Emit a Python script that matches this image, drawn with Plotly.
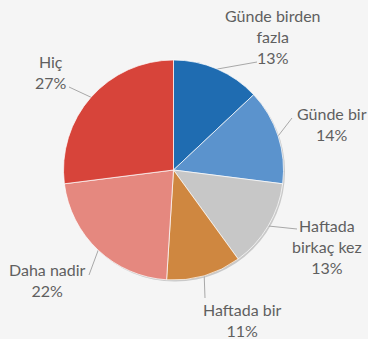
import math
import plotly.graph_objects as go

# Survey answer categories and their shares (%)
categories = ["Günde birden fazla", "Günde bir", "Haftada birkaç kez",
              "Haftada bir", "Daha nadir", "Hiç"]
shares = [13, 14, 13, 11, 22, 27]
label_lines = [["Günde birden", "fazla"], ["Günde bir"], ["Haftada", "birkaç kez"],
               ["Haftada bir"], ["Daha nadir"], ["Hiç"]]

colors = ["#1f6cb1", "#5b93cd", "#c7c7c7", "#cf8740", "#e5887f", "#d7443a"]

W, H = 368, 339
CX, CY, R = 173.5, 170.0, 110.0  # pie centre / radius in page pixels

# label block centres and leader-line end points (page pixels)
label_pos = [(272.5, 36), (332, 124), (327, 246), (242, 320), (47, 280), (51, 71.5)]
leader_end = [(257, 62), (292, 118), (297, 229), (205, 298), (89, 275), (69, 87)]

TEXT = "#5f5f5f"
LEADER = "#a8a8a8"
FONT = "Lato"

fig = go.Figure()

# soft shadow rim behind the pie
fig.add_shape(type="circle", xref="x", yref="y",
              x0=CX - R + 1.5, x1=CX + R + 1.5, y0=CY - R + 1.5, y1=CY + R + 1.5,
              fillcolor="#c9c9c9", line=dict(width=0), layer="below")

fig.add_trace(go.Pie(
    labels=categories, values=shares, sort=False, direction="clockwise", rotation=0,
    marker=dict(colors=colors, line=dict(color="rgba(255,255,255,0.7)", width=1)),
    textinfo="none", hoverinfo="label+percent", showlegend=False,
    domain=dict(x=[(CX - R) / W, (CX + R) / W],
                y=[(H - CY - R) / H, (H - CY + R) / H]),
))

total = sum(shares)
cum = 0.0
for i, v in enumerate(shares):
    mid = (cum + v / 2) / total * 2 * math.pi
    cum += v
    sx = CX + R * math.sin(mid)
    sy = CY - R * math.cos(mid)
    ex, ey = leader_end[i]
    fig.add_trace(go.Scatter(x=[sx, ex], y=[sy, ey], mode="lines",
                             line=dict(color=LEADER, width=1),
                             hoverinfo="skip", showlegend=False))
    pct = round(v / total * 100)
    text = "<br>".join(label_lines[i] + [f"{pct}%"])
    lx, ly = label_pos[i]
    fig.add_annotation(x=lx, y=ly, xref="x", yref="y", text=text, showarrow=False,
                       xanchor="center", yanchor="middle", align="center",
                       font=dict(family=FONT, size=16, color=TEXT))

fig.update_xaxes(range=[0, W], visible=False, fixedrange=True)
fig.update_yaxes(range=[H, 0], visible=False, fixedrange=True)
fig.update_layout(width=W, height=H, margin=dict(l=0, r=0, t=0, b=0),
                  paper_bgcolor="#f5f5f5", plot_bgcolor="#f5f5f5")

fig.write_html("out.html")
